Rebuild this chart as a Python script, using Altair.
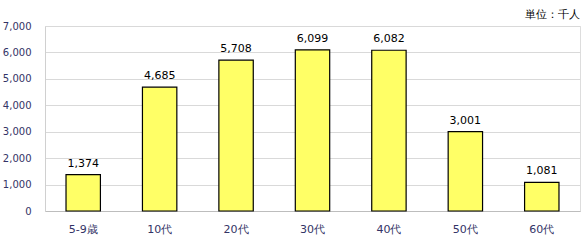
import altair as alt
import pandas as pd

categories = ["5-9歳", "10代", "20代", "30代", "40代", "50代", "60代"]
values = [1374, 4685, 5708, 6099, 6082, 3001, 1081]

df = pd.DataFrame({"cat": categories, "val": values})
df["label"] = [f"{v:,}" for v in values]

FONT = "DejaVu Sans"
AXIS_COLOR = "#333366"

x = alt.X("cat:N", sort=categories, title=None,
          scale=alt.Scale(paddingInner=0.55, paddingOuter=0.275),
          axis=alt.Axis(labelAngle=0, ticks=False, domainColor="#bdbdbd",
                        labelColor=AXIS_COLOR, labelFont=FONT, labelFontSize=11,
                        labelPadding=12, grid=False, labelOverlap=False))
y = alt.Y("val:Q", title=None,
          scale=alt.Scale(domain=[0, 7000], nice=False),
          axis=alt.Axis(values=list(range(0, 7001, 1000)), format=",d", ticks=False,
                        domainColor="#d0d0d0", gridColor="#d9d9d9",
                        labelColor=AXIS_COLOR, labelFont=FONT, labelFontSize=10,
                        labelPadding=14, labelOverlap=False, labelBound=False,
                        labelFlush=False))

bars = alt.Chart(df).mark_bar(color="#ffff66", stroke="#000000", strokeWidth=1.2).encode(x=x, y=y)
text = alt.Chart(df).mark_text(font=FONT, fontSize=11, color="#000000", baseline="bottom", dy=-6).encode(
    x=x, y=y, text="label:N")
unit = alt.Chart(pd.DataFrame({"t": ["単位：千人"]})).mark_text(
    font=FONT, fontSize=11, color="#000000", align="right", baseline="middle").encode(
    x=alt.value(535), y=alt.value(-11), text="t:N")

chart = alt.layer(bars, text, unit).properties(
    width=535, height=185,
    autosize=alt.AutoSizeParams(type="none"),
    padding={"left": 45, "top": 26, "right": 8, "bottom": 33},
).configure_view(stroke=None).configure(background="white").configure_axis(
    labelOverlap=False, labelFlush=False)

chart.save("out.html", embed_options={"renderer": "svg", "actions": False})
